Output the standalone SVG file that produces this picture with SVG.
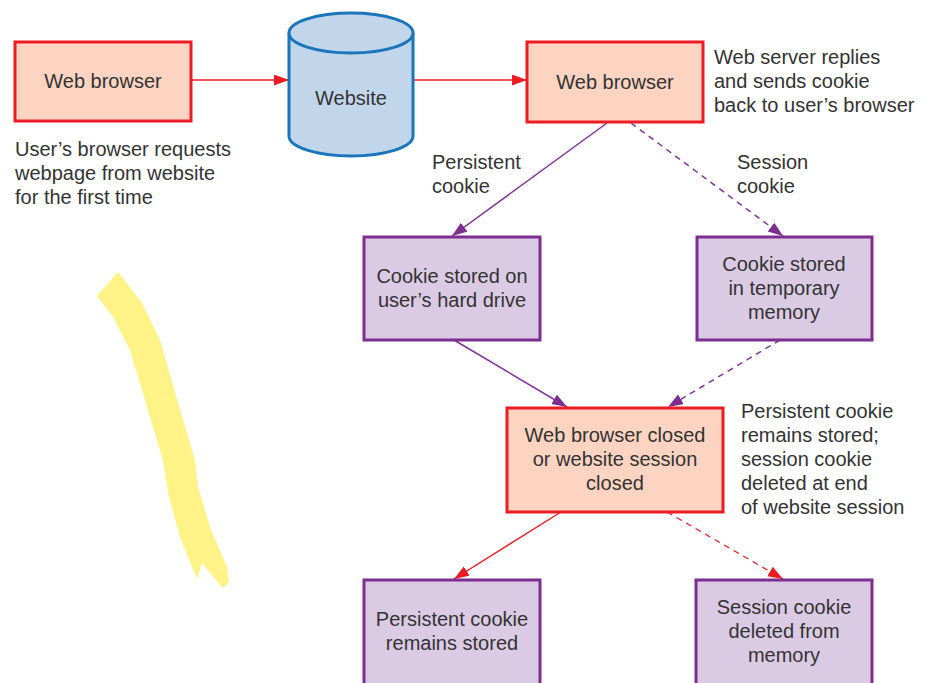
<svg xmlns="http://www.w3.org/2000/svg" width="925" height="683" viewBox="0 0 925 683">
<defs>
<style>
text{font-family:"Liberation Sans",Arial,sans-serif;font-size:20px;fill:#333333}
.c{text-anchor:middle}
.rb{fill:#FCD4C1;stroke:#ED1C24;stroke-width:3}
.pb{fill:#DBCAE3;stroke:#7E2D91;stroke-width:3}
.rl{stroke:#ED1C24;stroke-width:1.4;fill:none}
.pl{stroke:#83339A;stroke-width:1.5;fill:none}
.d{stroke-dasharray:6 5}
</style>
<marker id="ar" markerUnits="userSpaceOnUse" markerWidth="16" markerHeight="12" refX="15" refY="5.5" orient="auto">
<path d="M0,0 L15,5.5 L0,11 z" fill="#ED1C24"/>
</marker>
<marker id="ap" markerUnits="userSpaceOnUse" markerWidth="16" markerHeight="12" refX="15" refY="5.5" orient="auto">
<path d="M0,0 L15,5.5 L0,11 z" fill="#7E2D91"/>
</marker>
</defs>
<rect width="925" height="683" fill="#FFFFFF"/>
<polygon points="97,296 118,272 142,303 160,340 178,403 195,460 198,487 210,527 227,567 229,582 223,588 202,563 197,579 180,537 168,493 163,460 150,417 143,393 130,350 113,317" fill="#FFF387"/>
<g id="connectors">
<line class="rl" x1="191" y1="80" x2="289" y2="80" marker-end="url(#ar)"/>
<line class="rl" x1="413" y1="80" x2="527" y2="80" marker-end="url(#ar)"/>
<line class="pl" x1="607" y1="123" x2="452" y2="236" marker-end="url(#ap)"/>
<line class="pl d" x1="631" y1="123" x2="783" y2="236" marker-end="url(#ap)"/>
<line class="pl" x1="454" y1="340" x2="567" y2="407" marker-end="url(#ap)"/>
<line class="pl d" x1="780" y1="340" x2="668" y2="407" marker-end="url(#ap)"/>
<line class="rl" x1="561" y1="512" x2="454" y2="579" marker-end="url(#ar)"/>
<line class="rl d" x1="667" y1="512" x2="783" y2="579" marker-end="url(#ar)"/>
</g>
<g id="browser1">
<rect class="rb" x="15" y="42" width="176" height="79"/>
<text class="c" x="103" y="88">Web browser</text>
</g>
<g id="website">
<path d="M289,33 L289,136 A62,20 0 0 0 413,136 L413,33" fill="#C2D6EB" stroke="#1B75BB" stroke-width="3"/>
<ellipse cx="351" cy="33" rx="62" ry="20" fill="#C2D6EB" stroke="#1B75BB" stroke-width="3"/>
<text class="c" x="351" y="105">Website</text>
</g>
<g id="browser2">
<rect class="rb" x="527" y="42" width="176" height="80"/>
<text class="c" x="615" y="89">Web browser</text>
</g>
<g id="hardDrive">
<rect class="pb" x="364" y="237" width="176" height="103"/>
<text class="c" x="452" y="283">Cookie stored on</text>
<text class="c" x="452" y="307">user’s hard drive</text>
</g>
<g id="tempMemory">
<rect class="pb" x="697" y="237" width="175" height="103"/>
<text class="c" x="784" y="271">Cookie stored</text>
<text class="c" x="784" y="295">in temporary</text>
<text class="c" x="784" y="319">memory</text>
</g>
<g id="closed">
<rect class="rb" x="507" y="408" width="216" height="104"/>
<text class="c" x="615" y="442">Web browser closed</text>
<text class="c" x="615" y="466">or website session</text>
<text class="c" x="615" y="490">closed</text>
</g>
<g id="persistentStored">
<rect class="pb" x="364" y="580" width="176" height="106"/>
<text class="c" x="452" y="626">Persistent cookie</text>
<text class="c" x="452" y="650">remains stored</text>
</g>
<g id="sessionDeleted">
<rect class="pb" x="696" y="580" width="176" height="106"/>
<text class="c" x="784" y="614">Session cookie</text>
<text class="c" x="784" y="638">deleted from</text>
<text class="c" x="784" y="662">memory</text>
</g>
<g id="labels">
<text x="15" y="156">User’s browser requests</text>
<text x="15" y="180">webpage from website</text>
<text x="15" y="204">for the first time</text>
<text x="714" y="64">Web server replies</text>
<text x="714" y="88">and sends cookie</text>
<text x="714" y="112">back to user’s browser</text>
<text x="432" y="169">Persistent</text>
<text x="432" y="193">cookie</text>
<text x="737" y="169">Session</text>
<text x="737" y="193">cookie</text>
<text x="741" y="418">Persistent cookie</text>
<text x="741" y="442">remains stored;</text>
<text x="741" y="466">session cookie</text>
<text x="741" y="490">deleted at end</text>
<text x="741" y="514">of website session</text>
</g>
</svg>
